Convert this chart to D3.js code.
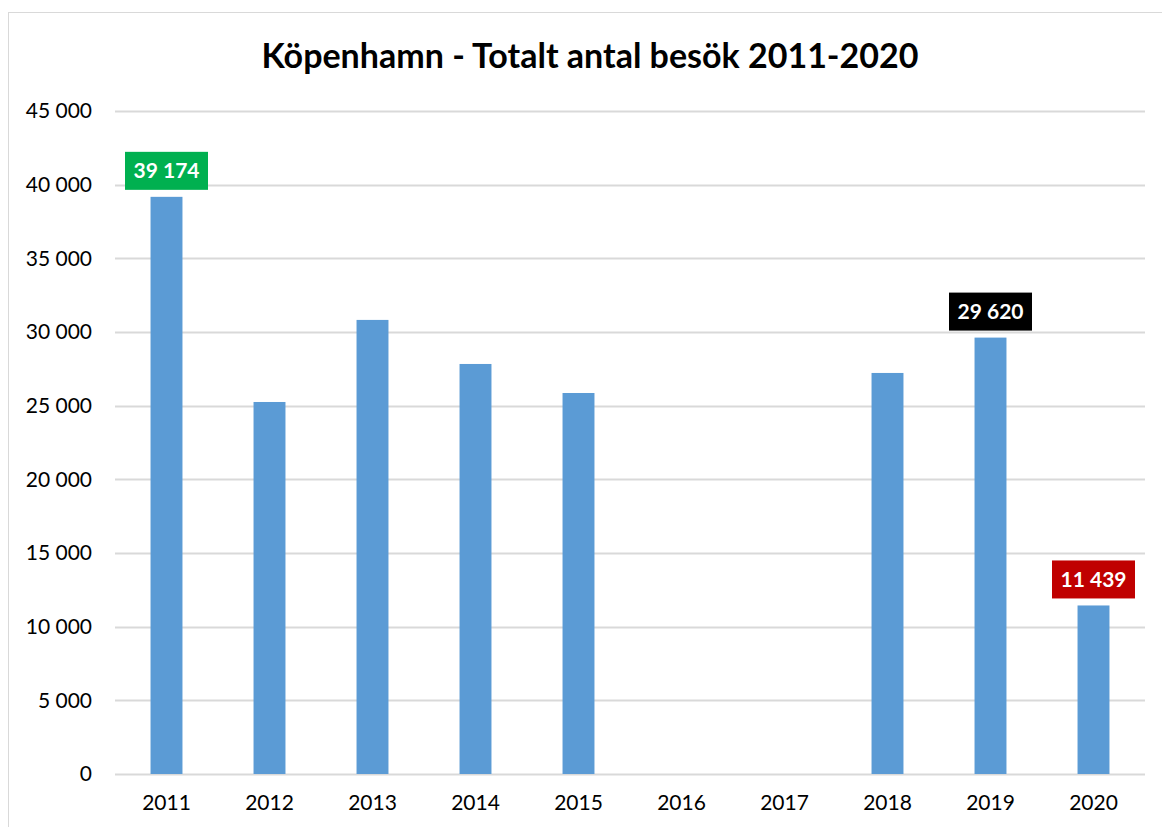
<!DOCTYPE html>
<html>
<head>
<meta charset="utf-8">
<script src="https://cdn.jsdelivr.net/npm/d3@7"></script>
<style>
  body { margin: 0; background: #fff; }
  text { font-family: Lato, "Open Sans", sans-serif; }
</style>
</head>
<body>
<div id="chart"></div>
<script>
'use strict'

const years = ['2011', '2012', '2013', '2014', '2015', '2016', '2017', '2018', '2019', '2020'];
const visits = [39174, 25250, 30820, 27830, 25860, null, null, 27220, 29620, 11439];
const yTicks = [0, 5000, 10000, 15000, 20000, 25000, 30000, 35000, 40000, 45000];
// labelled bars: year -> box colour
const highlights = [
    { year: '2011', color: '#00B050' },
    { year: '2019', color: '#000000' },
    { year: '2020', color: '#C00000' }
];

const W = 1162, H = 827;
const plotLeft = 115, plotRight = 1145, plotTop = 111, plotBottom = 774;

const svg = d3.select('#chart').append('svg')
    .attr('width', W)
    .attr('height', H);

svg.append('rect')
    .attr('x', 8.5).attr('y', 12.5)
    .attr('width', W).attr('height', H)
    .attr('fill', '#fff')
    .attr('stroke', '#d9d9d9');

const x = d3.scaleBand().domain(years).range([plotLeft, plotRight]).paddingInner(0.69).paddingOuter(0.345);
const y = d3.scaleLinear().domain([0, 45000]).range([plotBottom, plotTop]);

const fmt = v => d3.format(',')(v).replace(/,/g, ' ');

svg.append('text')
    .attr('x', 590).attr('y', 68)
    .attr('text-anchor', 'middle')
    .style('font-size', '34px')
    .style('font-weight', 'bold')
    .text('Köpenhamn - Totalt antal besök 2011-2020');

// gridlines
svg.append('g').selectAll('line')
    .data(yTicks)
    .enter().append('line')
    .attr('x1', plotLeft).attr('x2', plotRight)
    .attr('y1', d => Math.round(y(d)) + 0.5)
    .attr('y2', d => Math.round(y(d)) + 0.5)
    .attr('stroke', '#d9d9d9')
    .attr('stroke-width', 2);

const yAxis = svg.append('g')
    .attr('transform', 'translate(' + (plotLeft - 23) + ',0)')
    .call(d3.axisLeft(y).tickValues(yTicks).tickFormat(fmt).tickSize(0).tickPadding(0));
yAxis.select('.domain').remove();
yAxis.selectAll('text').style('font-size', '21px').attr('fill', '#000');

const xAxis = svg.append('g')
    .attr('transform', 'translate(0,' + plotBottom + ')')
    .call(d3.axisBottom(x).tickSize(0).tickPadding(21));
xAxis.select('.domain').remove();
xAxis.selectAll('text').style('font-size', '21px').attr('fill', '#000');

const barData = years.map((yr, i) => ({ year: yr, value: visits[i] })).filter(d => d.value != null);

svg.append('g').selectAll('rect')
    .data(barData)
    .enter().append('rect')
    .attr('x', d => x(d.year))
    .attr('y', d => y(d.value))
    .attr('width', x.bandwidth())
    .attr('height', d => y(0) - y(d.value))
    .attr('fill', '#5B9BD5');

const labels = svg.append('g').selectAll('g')
    .data(highlights.map(h => Object.assign({}, h, { value: visits[years.indexOf(h.year)] })))
    .enter().append('g')
    .attr('transform', d => 'translate(' + (x(d.year) + x.bandwidth() / 2) + ',' + (y(d.value) - 7) + ')');

labels.append('rect')
    .attr('x', -41.5).attr('y', -38)
    .attr('width', 83).attr('height', 38)
    .attr('fill', d => d.color);

labels.append('text')
    .attr('y', -11.5)
    .attr('text-anchor', 'middle')
    .attr('fill', '#fff')
    .style('font-size', '21px')
    .style('font-weight', 'bold')
    .text(d => fmt(d.value));
</script>
</body>
</html>
